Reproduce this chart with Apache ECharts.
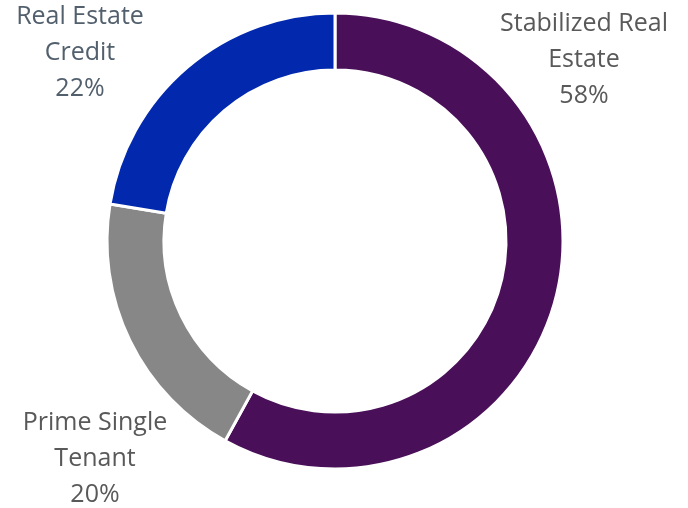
<!DOCTYPE html>
<html>
<head>
<meta charset="utf-8">
<script src="https://cdn.jsdelivr.net/npm/echarts@6/dist/echarts.min.js"></script>
<style>
  html, body { margin: 0; padding: 0; background: #fff; }
  #main { width: 688px; height: 508px; }
</style>
</head>
<body>
<div id="main"></div>
<script>
var categories = ['Stabilized Real\nEstate', 'Prime Single\nTenant', 'Real Estate\nCredit'];
var shares = [58, 19.6, 22.4];
var sliceColors = ['#4a0f59', '#878787', '#0229ad'];
var labelColors = ['#595959', '#595959', '#52606d'];
// where each label sits (centre of the text block)
var labelPos = [[584, 60], [95, 459], [80, 53]];

var myChart = echarts.init(document.getElementById('main'));

var option = {
  animation: false,
  series: [
    {
      type: 'pie',
      center: [335, 241],
      radius: [171, 228],
      startAngle: 90,
      clockwise: true,
      itemStyle: { borderColor: '#fff', borderWidth: 3 },
      label: {
        show: true,
        position: 'outside',
        formatter: function (p) {
          return p.name + '\n' + Math.round(p.value) + '%';
        },
        fontFamily: 'Open Sans',
        fontSize: 25,
        lineHeight: 36,
        align: 'center',
        overflow: 'none'
      },
      labelLine: { show: false },
      labelLayout: function (p) {
        var pos = labelPos[p.dataIndex];
        return { x: pos[0], y: pos[1], align: 'center', verticalAlign: 'middle', width: 260 };
      },
      data: categories.map(function (name, i) {
        return {
          name: name,
          value: shares[i],
          itemStyle: { color: sliceColors[i] },
          label: { color: labelColors[i] }
        };
      })
    }
  ]
};
myChart.setOption(option);
</script>
</body>
</html>
